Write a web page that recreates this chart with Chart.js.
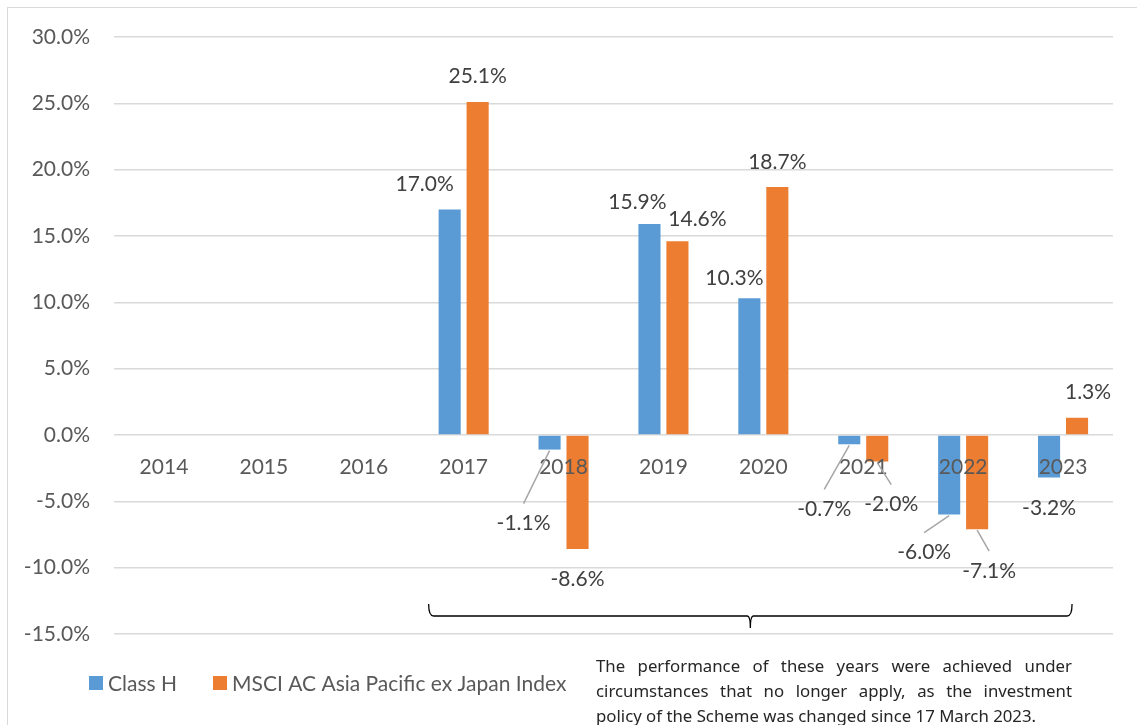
<!DOCTYPE html>
<html>
<head>
<meta charset="utf-8">
<script src="https://cdn.jsdelivr.net/npm/chart.js@4"></script>
<style>
  body { margin: 0; background: #fff; }
  .wrap { position: relative; width: 1137px; height: 725px; overflow: hidden; }
  .frame { position: absolute; left: 7px; top: 7px; width: 1200px; height: 800px;
    border-top: 1.5px solid #d9d9d9; border-left: 1.5px solid #d9d9d9; }
  .note { position: absolute; left: 596px; top: 653px; width: 476px;
    font-family: "Noto Sans", sans-serif; font-size: 16.8px; line-height: 25px;
    color: #262626; }
  .note div { white-space: nowrap; }
  .note .j { text-align: justify; text-align-last: justify; white-space: normal; }
  canvas { position: absolute; left: 0; top: 0; }
</style>
</head>
<body>
<div class="wrap">
  <div class="frame"></div>
  <canvas id="chart" width="1137" height="725"></canvas>
  <div class="note">
    <div class="j">The performance of these years were achieved under</div>
    <div class="j">circumstances that no longer apply, as the investment</div>
    <div>policy of the Scheme was changed since 17 March 2023.</div>
  </div>
</div>
<script>
const years = ["2014", "2015", "2016", "2017", "2018", "2019", "2020", "2021", "2022", "2023"];
const classH = [null, null, null, 17.0, -1.1, 15.9, 10.3, -0.7, -6.0, -3.2];
const msci = [null, null, null, 25.1, -8.6, 14.6, 18.7, -2.0, -7.1, 1.3];
const seriesNames = ["Class H", "MSCI AC Asia Pacific ex Japan Index"];

const blue = "#5b9bd5";
const orange = "#ed7d31";
const chartFont = "Lato, sans-serif";
const fontSize = 21;

// label offsets [dx, dy, leader] relative to the bar end
const labelPos = [
  [null, null, null, [-25, -25], [-26, 74, 1], [-12, -22], [-15, -20], [-25, 65, 1], [-25, 38, 1], [0, 31]],
  [null, null, null, [0, -26], [0, 30], [20, -22], [0, -25], [14, 43, 1], [12, 42, 1], [11, -26]],
];

const labelsPlugin = {
  id: "barLabels",
  afterDatasetsDraw(chart) {
    const ctx = chart.ctx;
    const xs = chart.scales.x;
    const ys = chart.scales.y;
    ctx.save();
    ctx.font = fontSize + "px " + chartFont;
    ctx.textAlign = "center";
    ctx.textBaseline = "middle";

    // category labels sit on the zero line, over the bars
    ctx.fillStyle = "#595959";
    const y0 = ys.getPixelForValue(0);
    chart.data.labels.forEach((lab, j) => {
      ctx.fillText(lab, xs.getPixelForValue(j), y0 + 32);
    });

    chart.data.datasets.forEach((ds, i) => {
      const meta = chart.getDatasetMeta(i);
      meta.data.forEach((bar, j) => {
        const v = ds.data[j];
        const pos = labelPos[i][j];
        if (v === null || !pos) return;
        const lx = bar.x + pos[0];
        const ly = bar.y + pos[1];
        if (pos[2]) {
          ctx.strokeStyle = "#a6a6a6";
          ctx.lineWidth = 1.5;
          ctx.beginPath();
          ctx.moveTo(bar.x, bar.y + 1);
          ctx.lineTo(lx, ly - 20);
          ctx.stroke();
        }
        ctx.fillStyle = "#404040";
        ctx.fillText(v.toFixed(1) + "%", lx, ly);
      });
    });
    ctx.restore();
  },
};

const extrasPlugin = {
  id: "extras",
  afterDraw(chart) {
    const ctx = chart.ctx;
    const x = chart.scales.x;
    ctx.save();
    // bracket under 2017-2023
    const x0 = x.getPixelForValue(3) - 35;
    const x1 = x.getPixelForValue(9) + 9;
    const xm = (x0 + x1) / 2;
    const yb = 616;
    ctx.strokeStyle = "#000";
    ctx.lineWidth = 1.3;
    ctx.beginPath();
    ctx.moveTo(x0, 604);
    ctx.quadraticCurveTo(x0, yb, x0 + 5, yb);
    ctx.lineTo(xm - 3, yb);
    ctx.quadraticCurveTo(xm, yb, xm, 628);
    ctx.quadraticCurveTo(xm, yb, xm + 3, yb);
    ctx.lineTo(x1 - 5, yb);
    ctx.quadraticCurveTo(x1, yb, x1, 604);
    ctx.stroke();

    // legend
    ctx.font = fontSize + "px " + chartFont;
    ctx.textBaseline = "middle";
    ctx.textAlign = "left";
    let lx = 89;
    chart.data.datasets.forEach((ds) => {
      ctx.fillStyle = ds.backgroundColor;
      ctx.fillRect(lx, 676, 14, 14);
      ctx.fillStyle = "#595959";
      ctx.fillText(ds.label, lx + 19, 684);
      lx += 19 + ctx.measureText(ds.label).width + 36;
    });
    ctx.restore();
  },
};

new Chart(document.getElementById("chart"), {
  type: "bar",
  data: {
    labels: years,
    datasets: [
      { label: seriesNames[0], data: classH, backgroundColor: blue },
      { label: seriesNames[1], data: msci, backgroundColor: orange },
    ],
  },
  options: {
    responsive: false,
    animation: false,
    categoryPercentage: 0.56,
    barPercentage: 0.79,
    layout: { padding: { left: 8, right: 24, top: 37, bottom: 91 } },
    plugins: { legend: { display: false }, tooltip: { enabled: false } },
    scales: {
      x: {
        display: false,
      },
      y: {
        min: -15,
        max: 30,
        afterFit: (s) => { s.width = 106; },
        grid: { color: "#d9d9d9", lineWidth: 1.5, drawTicks: false },
        border: { display: false },
        ticks: {
          stepSize: 5,
          padding: 24,
          color: "#595959",
          font: { family: chartFont, size: fontSize },
          callback: (v) => v.toFixed(1) + "%",
        },
      },
    },
  },
  plugins: [labelsPlugin, extrasPlugin],
});
</script>
</body>
</html>
